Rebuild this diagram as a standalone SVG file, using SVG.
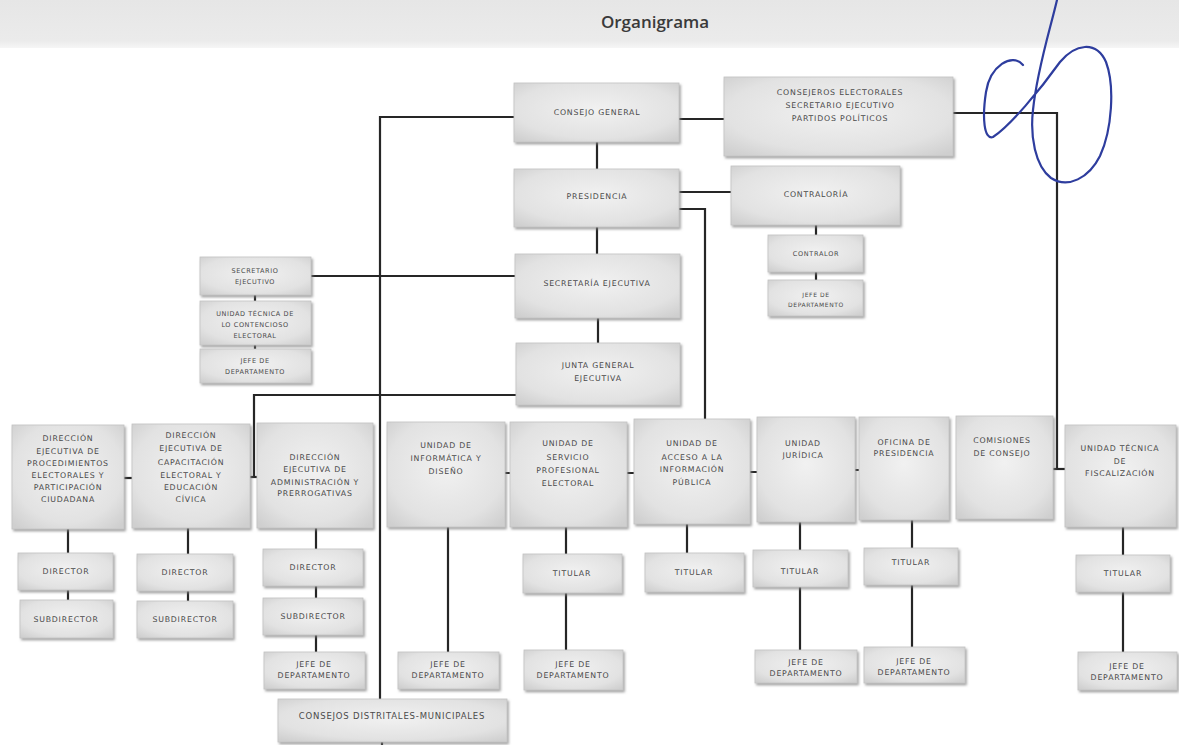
<svg xmlns="http://www.w3.org/2000/svg" width="1179" height="745" viewBox="0 0 1179 745">
<defs>
<radialGradient id="g" cx="50%" cy="45%" r="70%">
<stop offset="0" stop-color="#f1f1f1"/>
<stop offset="0.7" stop-color="#e2e2e2"/>
<stop offset="1" stop-color="#cfcfcf"/>
</radialGradient>
<linearGradient id="band" x1="0" y1="0" x2="0" y2="1">
<stop offset="0" stop-color="#e6e6e6"/>
<stop offset="0.85" stop-color="#ebebeb"/>
<stop offset="1" stop-color="#f6f6f6"/>
</linearGradient>
<filter id="sh" x="-10%" y="-10%" width="125%" height="130%">
<feDropShadow dx="1.5" dy="2" stdDeviation="1.2" flood-color="#808080" flood-opacity="0.7"/>
</filter>
<style>
.box{fill:url(#g);stroke:#c2c2c2;stroke-width:0.8;filter:url(#sh)}
.t{font-family:"DejaVu Sans","Liberation Sans",sans-serif;font-size:7.8px;letter-spacing:0.8px;fill:#4a4a4a;text-anchor:middle}
.tb{font-size:8.5px}
.c{stroke:#262626;stroke-width:2.2;fill:none}
.title{font-family:"Open Sans","Liberation Sans",sans-serif;font-size:17px;font-weight:600;fill:#3a3a3a;text-anchor:middle}
</style>
</defs>
<rect width="1179" height="745" fill="#ffffff"/>
<rect x="0" y="0" width="1179" height="48" fill="url(#band)"/>
<text class="title" x="655" y="28">Organigrama</text>

<g id="connectors">
<path class="c" d="M514,117 H380 V699"/>
<path class="c" d="M382,742 V745"/>
<path class="c" d="M679,119 H724"/>
<path class="c" d="M953,113 H1057 V469"/>
<path class="c" d="M1053,469 H1065"/>
<path class="c" d="M597,142 V169"/>
<path class="c" d="M679,192 H731"/>
<path class="c" d="M679,209 H705 V419"/>
<path class="c" d="M816,225 V235 M816,272 V280"/>
<path class="c" d="M597,227 V254"/>
<path class="c" d="M311,276 H515"/>
<path class="c" d="M255,295 V301 M255,345 V349"/>
<path class="c" d="M598,318 V343"/>
<path class="c" d="M516,395 H254 V477"/>
<path class="c" d="M250,477 H257"/>
<path class="c" d="M124,478 H132"/>
<path class="c" d="M505,473 H510 M627,473 H634 M750,472 H757 M855,470 H859"/>
<path class="c" d="M68,529 V553 M68,590 V600"/>
<path class="c" d="M188,528 V554 M188,591 V601"/>
<path class="c" d="M316,528 V549 M316,586 V598 M316,635 V652"/>
<path class="c" d="M448,527 V652"/>
<path class="c" d="M566,527 V554 M566,593 V650"/>
<path class="c" d="M687,524 V553"/>
<path class="c" d="M800,522 V550 M800,587 V650"/>
<path class="c" d="M912,520 V548 M912,585 V647"/>
<path class="c" d="M1123,527 V555 M1123,592 V652"/>
</g>

<g id="consejo-general"><rect class="box" x="514" y="83" width="165" height="59"/><text class="t" x="597" y="115">CONSEJO GENERAL</text></g>
<g id="consejeros"><rect class="box" x="724" y="77" width="229" height="79"/><text class="t" x="840"><tspan x="840" y="95">CONSEJEROS ELECTORALES</tspan><tspan x="840" y="108">SECRETARIO EJECUTIVO</tspan><tspan x="840" y="121">PARTIDOS POLÍTICOS</tspan></text></g>
<g id="presidencia"><rect class="box" x="514" y="169" width="165" height="58"/><text class="t" x="597" y="199">PRESIDENCIA</text></g>
<g id="contraloria"><rect class="box" x="731" y="166" width="169" height="59"/><text class="t" x="816" y="197">CONTRALORÍA</text></g>
<g id="contralor"><rect class="box" x="768" y="235" width="95" height="37"/><text class="t" x="816" y="256" style="font-size:6.5px;letter-spacing:0.7px">CONTRALOR</text></g>
<g id="jefe-contraloria"><rect class="box" x="768" y="280" width="95" height="36"/><text class="t" style="font-size:6px;letter-spacing:0.6px"><tspan x="816" y="297">JEFE DE</tspan><tspan x="816" y="307">DEPARTAMENTO</tspan></text></g>
<g id="secretaria-ejecutiva"><rect class="box" x="515" y="254" width="165" height="64"/><text class="t" x="597" y="286">SECRETARÍA EJECUTIVA</text></g>
<g id="junta-general"><rect class="box" x="516" y="343" width="164" height="62"/><text class="t"><tspan x="598" y="368">JUNTA GENERAL</tspan><tspan x="598" y="381">EJECUTIVA</tspan></text></g>
<g id="secretario-ejecutivo"><rect class="box" x="200" y="257" width="111" height="38"/><text class="t" style="font-size:6.5px;letter-spacing:0.6px"><tspan x="255" y="273">SECRETARIO</tspan><tspan x="255" y="284">EJECUTIVO</tspan></text></g>
<g id="unidad-contencioso"><rect class="box" x="200" y="301" width="111" height="44"/><text class="t" style="font-size:6.5px;letter-spacing:0.6px"><tspan x="255" y="316">UNIDAD TÉCNICA DE</tspan><tspan x="255" y="327">LO CONTENCIOSO</tspan><tspan x="255" y="338">ELECTORAL</tspan></text></g>
<g id="jefe-contencioso"><rect class="box" x="200" y="349" width="111" height="34"/><text class="t" style="font-size:6.5px;letter-spacing:0.6px"><tspan x="255" y="363">JEFE DE</tspan><tspan x="255" y="374">DEPARTAMENTO</tspan></text></g>

<g id="dir-procedimientos"><rect class="box" x="12" y="425" width="112" height="104"/><text class="t"><tspan x="68" y="441">DIRECCIÓN</tspan><tspan x="68" y="454">EJECUTIVA DE</tspan><tspan x="68" y="466">PROCEDIMIENTOS</tspan><tspan x="68" y="478">ELECTORALES Y</tspan><tspan x="68" y="490">PARTICIPACIÓN</tspan><tspan x="68" y="502">CIUDADANA</tspan></text></g>
<g id="dir-capacitacion"><rect class="box" x="132" y="424" width="118" height="104"/><text class="t"><tspan x="191" y="438">DIRECCIÓN</tspan><tspan x="191" y="451">EJECUTIVA DE</tspan><tspan x="191" y="465">CAPACITACIÓN</tspan><tspan x="191" y="478">ELECTORAL Y</tspan><tspan x="191" y="490">EDUCACIÓN</tspan><tspan x="191" y="502">CÍVICA</tspan></text></g>
<g id="dir-administracion"><rect class="box" x="257" y="423" width="116" height="105"/><text class="t"><tspan x="315" y="460">DIRECCIÓN</tspan><tspan x="315" y="472">EJECUTIVA DE</tspan><tspan x="315" y="485">ADMINISTRACIÓN Y</tspan><tspan x="315" y="496">PRERROGATIVAS</tspan></text></g>
<g id="unidad-informatica"><rect class="box" x="387" y="422" width="118" height="105"/><text class="t"><tspan x="446" y="448">UNIDAD DE</tspan><tspan x="446" y="461">INFORMÁTICA Y</tspan><tspan x="446" y="474">DISEÑO</tspan></text></g>
<g id="unidad-servicio"><rect class="box" x="510" y="422" width="117" height="105"/><text class="t"><tspan x="568" y="446">UNIDAD DE</tspan><tspan x="568" y="460">SERVICIO</tspan><tspan x="568" y="473">PROFESIONAL</tspan><tspan x="568" y="486">ELECTORAL</tspan></text></g>
<g id="unidad-acceso"><rect class="box" x="634" y="419" width="116" height="105"/><text class="t"><tspan x="692" y="446">UNIDAD DE</tspan><tspan x="692" y="460">ACCESO A LA</tspan><tspan x="692" y="472">INFORMACIÓN</tspan><tspan x="692" y="485">PÚBLICA</tspan></text></g>
<g id="unidad-juridica"><rect class="box" x="757" y="417" width="98" height="105"/><text class="t"><tspan x="803" y="446">UNIDAD</tspan><tspan x="803" y="458">JURÍDICA</tspan></text></g>
<g id="oficina-presidencia"><rect class="box" x="859" y="417" width="90" height="103"/><text class="t"><tspan x="904" y="445">OFICINA DE</tspan><tspan x="904" y="456">PRESIDENCIA</tspan></text></g>
<g id="comisiones"><rect class="box" x="956" y="416" width="97" height="103"/><text class="t"><tspan x="1002" y="443">COMISIONES</tspan><tspan x="1002" y="456">DE CONSEJO</tspan></text></g>
<g id="unidad-fiscalizacion"><rect class="box" x="1065" y="425" width="111" height="102"/><text class="t"><tspan x="1120" y="451">UNIDAD TÉCNICA</tspan><tspan x="1120" y="464">DE</tspan><tspan x="1120" y="476">FISCALIZACIÓN</tspan></text></g>

<g id="c1-director"><rect class="box" x="18" y="553" width="95" height="37"/><text class="t" x="66" y="574">DIRECTOR</text></g>
<g id="c1-subdirector"><rect class="box" x="20" y="600" width="93" height="38"/><text class="t" x="66" y="622">SUBDIRECTOR</text></g>
<g id="c2-director"><rect class="box" x="137" y="554" width="96" height="37"/><text class="t" x="185" y="575">DIRECTOR</text></g>
<g id="c2-subdirector"><rect class="box" x="137" y="601" width="96" height="37"/><text class="t" x="185" y="622">SUBDIRECTOR</text></g>
<g id="c3-director"><rect class="box" x="263" y="549" width="100" height="37"/><text class="t" x="313" y="570">DIRECTOR</text></g>
<g id="c3-subdirector"><rect class="box" x="263" y="598" width="100" height="37"/><text class="t" x="313" y="619">SUBDIRECTOR</text></g>
<g id="c3-jefe"><rect class="box" x="264" y="652" width="101" height="37"/><text class="t"><tspan x="314" y="667">JEFE DE</tspan><tspan x="314" y="678">DEPARTAMENTO</tspan></text></g>
<g id="c4-jefe"><rect class="box" x="398" y="652" width="101" height="37"/><text class="t"><tspan x="448" y="667">JEFE DE</tspan><tspan x="448" y="678">DEPARTAMENTO</tspan></text></g>
<g id="c5-titular"><rect class="box" x="523" y="554" width="99" height="39"/><text class="t" x="572" y="576">TITULAR</text></g>
<g id="c5-jefe"><rect class="box" x="524" y="650" width="99" height="40"/><text class="t"><tspan x="573" y="667">JEFE DE</tspan><tspan x="573" y="678">DEPARTAMENTO</tspan></text></g>
<g id="c6-titular"><rect class="box" x="645" y="553" width="99" height="39"/><text class="t" x="694" y="575">TITULAR</text></g>
<g id="c7-titular"><rect class="box" x="753" y="550" width="95" height="37"/><text class="t" x="800" y="574">TITULAR</text></g>
<g id="c7-jefe"><rect class="box" x="755" y="650" width="102" height="33"/><text class="t"><tspan x="806" y="665">JEFE DE</tspan><tspan x="806" y="676">DEPARTAMENTO</tspan></text></g>
<g id="c8-titular"><rect class="box" x="864" y="548" width="94" height="37"/><text class="t" x="911" y="565">TITULAR</text></g>
<g id="c8-jefe"><rect class="box" x="864" y="647" width="101" height="36"/><text class="t"><tspan x="914" y="664">JEFE DE</tspan><tspan x="914" y="675">DEPARTAMENTO</tspan></text></g>
<g id="c10-titular"><rect class="box" x="1076" y="555" width="94" height="37"/><text class="t" x="1123" y="576">TITULAR</text></g>
<g id="c10-jefe"><rect class="box" x="1078" y="652" width="99" height="38"/><text class="t"><tspan x="1127" y="669">JEFE DE</tspan><tspan x="1127" y="680">DEPARTAMENTO</tspan></text></g>
<g id="consejos-distritales"><rect class="box" x="278" y="699" width="229" height="43"/><text class="t tb" x="392" y="719">CONSEJOS DISTRITALES-MUNICIPALES</text></g>

<path d="M1023,65 C1012,52 990,66 986,92 C982,118 984,140 993,137 C1010,126 1040,90 1060,62 C1075,44 1096,40 1106,62 C1115,86 1112,130 1100,156 C1089,178 1068,189 1051,178 C1035,166 1030,136 1033,110 C1037,70 1050,30 1057,0" fill="none" stroke="#2e3d9e" stroke-width="2.2" stroke-linecap="round"/>
</svg>
